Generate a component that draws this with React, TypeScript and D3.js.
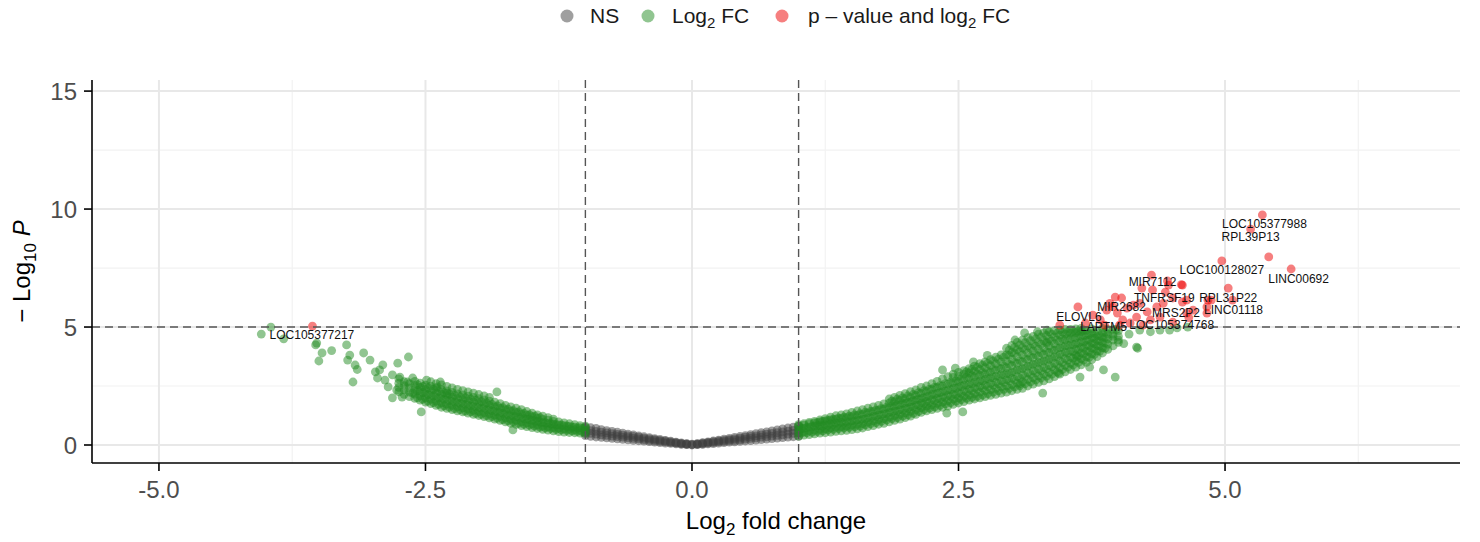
import React from 'react';
import * as d3 from 'd3';

// log2 fold change / -log10 p
const xTicks = [-5, -2.5, 0, 2.5, 5];
const xMinor = [-3.75, -1.25, 1.25, 3.75, 6.25];
const yTicks = [0, 5, 10, 15];
const yMinor = [2.5, 7.5, 12.5];
const fcCutoff = 1;
const pCutoff = 5;

// not significant (|FC| < 1): columns of [log2FC, -log10P values]
const nsColumns: [number, number[]][] = [
  [-1.0, [0.4, 0.52, 0.64, 0.76]], [-0.95, [0.37, 0.49, 0.61, 0.73]], [-0.9, [0.34, 0.46, 0.58, 0.7]],
  [-0.85, [0.32, 0.43, 0.54, 0.65]], [-0.8, [0.3, 0.41, 0.51, 0.61]], [-0.75, [0.28, 0.38, 0.48, 0.58]],
  [-0.7, [0.26, 0.36, 0.45, 0.54]], [-0.65, [0.24, 0.33, 0.42, 0.5]], [-0.6, [0.22, 0.31, 0.39, 0.46]],
  [-0.55, [0.2, 0.28, 0.36, 0.43]], [-0.5, [0.18, 0.26, 0.33, 0.39]], [-0.45, [0.16, 0.23, 0.29, 0.35]],
  [-0.4, [0.14, 0.2, 0.26, 0.31]], [-0.35, [0.12, 0.18, 0.23, 0.27]], [-0.3, [0.1, 0.15, 0.2, 0.24]],
  [-0.25, [0.08, 0.13, 0.17, 0.2]], [-0.2, [0.07, 0.1, 0.13, 0.16]], [-0.15, [0.05, 0.08, 0.1, 0.12]],
  [-0.1, [0.03, 0.05, 0.07, 0.09]], [-0.05, [0.02, 0.03, 0.05, 0.06]], [0, [0.0, 0.02, 0.04]],
  [0.05, [0.02, 0.03, 0.05, 0.06]], [0.1, [0.03, 0.05, 0.08, 0.1]], [0.15, [0.05, 0.08, 0.11, 0.13]],
  [0.2, [0.06, 0.1, 0.14, 0.17]], [0.25, [0.08, 0.13, 0.17, 0.21]], [0.3, [0.1, 0.15, 0.2, 0.25]],
  [0.35, [0.12, 0.18, 0.23, 0.28]], [0.4, [0.13, 0.2, 0.26, 0.32]], [0.45, [0.15, 0.22, 0.29, 0.36]],
  [0.5, [0.17, 0.25, 0.33, 0.4]], [0.55, [0.19, 0.28, 0.36, 0.44]], [0.6, [0.21, 0.3, 0.39, 0.48]],
  [0.65, [0.23, 0.33, 0.43, 0.52]], [0.7, [0.25, 0.35, 0.46, 0.56]], [0.75, [0.27, 0.38, 0.49, 0.6]],
  [0.8, [0.29, 0.41, 0.52, 0.64]], [0.85, [0.31, 0.43, 0.56, 0.68]], [0.9, [0.33, 0.46, 0.59, 0.72]],
  [0.95, [0.35, 0.49, 0.62, 0.76]], [1.0, [0.37, 0.51, 0.66, 0.8]],
];

// |FC| > 1 but p above cutoff, left arm
const fcLeftColumns: [number, number[]][] = [
  [-1.0, [0.48, 0.6, 0.72, 0.8]], [-1.05, [0.5, 0.62, 0.74, 0.82]], [-1.1, [0.52, 0.64, 0.76, 0.86]],
  [-1.15, [0.53, 0.66, 0.79, 0.9]], [-1.2, [0.55, 0.68, 0.82, 0.94]], [-1.25, [0.57, 0.71, 0.85, 0.98]],
  [-1.3, [0.6, 0.74, 0.88, 1.0, 1.1]], [-1.35, [0.63, 0.77, 0.92, 1.05, 1.16]],
  [-1.4, [0.66, 0.8, 0.95, 1.09, 1.22]], [-1.45, [0.7, 0.85, 1.0, 1.14, 1.28]],
  [-1.5, [0.74, 0.89, 1.04, 1.2, 1.35]], [-1.55, [0.78, 0.94, 1.1, 1.26, 1.42]],
  [-1.6, [0.82, 0.98, 1.15, 1.32, 1.5]], [-1.65, [0.87, 1.04, 1.21, 1.38, 1.56]],
  [-1.7, [0.92, 1.09, 1.26, 1.44, 1.62]], [-1.75, [0.98, 1.15, 1.32, 1.5, 1.68]],
  [-1.8, [1.04, 1.21, 1.38, 1.56, 1.75]], [-1.85, [1.1, 1.27, 1.44, 1.62, 1.82]],
  [-1.9, [1.15, 1.32, 1.5, 1.68, 1.86, 2.02]], [-1.95, [1.2, 1.37, 1.55, 1.73, 1.91, 2.08]],
  [-2.0, [1.25, 1.42, 1.6, 1.78, 1.96, 2.14]], [-2.05, [1.3, 1.47, 1.65, 1.83, 2.02, 2.2]],
  [-2.1, [1.35, 1.52, 1.7, 1.88, 2.07, 2.25]], [-2.15, [1.4, 1.57, 1.75, 1.93, 2.12, 2.3]],
  [-2.2, [1.45, 1.62, 1.8, 1.98, 2.17, 2.36]], [-2.25, [1.5, 1.68, 1.86, 2.04, 2.23, 2.42]],
  [-2.3, [1.55, 1.73, 1.91, 2.1, 2.29, 2.48]], [-2.35, [1.6, 1.79, 1.97, 2.16, 2.35, 2.55]],
  [-2.4, [1.68, 1.86, 2.04, 2.22, 2.41, 2.6]], [-2.45, [1.75, 1.93, 2.11, 2.3, 2.49, 2.68]],
  [-2.5, [1.82, 2.0, 2.18, 2.36, 2.54]], [-2.55, [1.9, 2.08, 2.26, 2.44, 2.62]],
  [-2.6, [1.98, 2.16, 2.34, 2.52, 2.7]], [-2.65, [2.05, 2.24, 2.42, 2.6]],
  [-2.7, [2.15, 2.34, 2.52, 2.68]], [-2.75, [2.25, 2.44, 2.62, 2.8]],
];

// denser middle of the left arm
const fcLeftCore: [number, number[]][] = [
  [-1.025, [0.56, 0.7]], [-1.075, [0.58, 0.72]], [-1.125, [0.6, 0.76]], [-1.175, [0.62, 0.8]],
  [-1.225, [0.64, 0.84]], [-1.275, [0.66, 0.86]], [-1.325, [0.7, 0.9]], [-1.375, [0.72, 0.94]],
  [-1.425, [0.76, 0.98, 1.16]], [-1.475, [0.8, 1.02, 1.22]], [-1.525, [0.84, 1.08, 1.28]],
  [-1.575, [0.88, 1.12, 1.34]], [-1.625, [0.92, 1.18, 1.4]], [-1.675, [0.98, 1.22, 1.46]],
  [-1.725, [1.02, 1.28, 1.52]], [-1.775, [1.08, 1.34, 1.58]], [-1.825, [1.14, 1.4, 1.66]],
  [-1.875, [1.2, 1.46, 1.72]], [-1.925, [1.24, 1.5, 1.78]], [-1.975, [1.3, 1.56, 1.84]],
  [-2.025, [1.34, 1.62, 1.9]], [-2.075, [1.4, 1.66, 1.94]], [-2.125, [1.44, 1.72, 2.0]],
  [-2.175, [1.5, 1.76, 2.04]], [-2.225, [1.54, 1.82, 2.1]], [-2.275, [1.6, 1.88, 2.16]],
  [-2.325, [1.66, 1.94, 2.22]], [-2.375, [1.72, 2.0, 2.28]], [-2.425, [1.8, 2.08, 2.36]],
  [-2.475, [1.86, 2.14, 2.42]], [-2.525, [1.94, 2.22, 2.48]], [-2.575, [2.0, 2.3, 2.56]],
];

const fcLeftScatter: [number, number][] = [
  [-4.04, 4.7], [-3.95, 5.0], [-3.83, 4.5], [-3.53, 4.24], [-3.52, 4.32], [-3.47, 3.9],
  [-3.5, 3.56], [-3.38, 4.0], [-3.24, 4.24], [-3.23, 3.6], [-3.21, 3.81], [-3.16, 3.39],
  [-3.18, 2.67], [-3.14, 3.2], [-3.08, 3.9], [-3.02, 3.6], [-2.97, 3.1], [-2.95, 2.84],
  [-2.93, 3.18], [-2.9, 3.4], [-2.88, 2.75], [-2.85, 2.46], [-2.81, 2.97], [-2.76, 3.47],
  [-2.74, 2.88], [-2.67, 2.67], [-2.66, 3.73], [-2.62, 2.84], [-2.62, 2.2], [-2.81, 2.0],
  [-2.72, 2.03], [-2.77, 2.33], [-2.54, 1.4], [-2.49, 2.75], [-2.39, 2.46], [-2.36, 2.67],
  [-2.3, 2.2], [-1.83, 2.25], [-1.68, 0.64],
];

// right arm
const fcRightColumns: [number, number[]][] = [
  [1.0, [0.38, 0.52, 0.66, 0.8, 0.86]], [1.05, [0.42, 0.56, 0.7, 0.84, 0.9]],
  [1.1, [0.44, 0.6, 0.76, 0.9, 0.96]], [1.15, [0.47, 0.63, 0.8, 0.94, 1.0]],
  [1.2, [0.5, 0.66, 0.83, 0.98, 1.06]], [1.25, [0.52, 0.68, 0.86, 1.02, 1.12]],
  [1.3, [0.55, 0.72, 0.9, 1.06, 1.18]], [1.35, [0.58, 0.76, 0.94, 1.1, 1.24]],
  [1.4, [0.6, 0.78, 0.96, 1.13, 1.28]], [1.45, [0.62, 0.8, 0.98, 1.16, 1.32]],
  [1.5, [0.65, 0.84, 1.02, 1.2, 1.38]], [1.55, [0.68, 0.87, 1.06, 1.25, 1.44]],
  [1.6, [0.72, 0.91, 1.1, 1.3, 1.5]], [1.65, [0.78, 0.97, 1.16, 1.36, 1.56]],
  [1.7, [0.82, 1.02, 1.22, 1.42, 1.62]], [1.75, [0.88, 1.08, 1.28, 1.48, 1.68]],
  [1.8, [0.92, 1.12, 1.32, 1.52, 1.74]], [1.85, [0.98, 1.18, 1.38, 1.58, 1.78, 1.95]],
  [1.9, [1.04, 1.24, 1.44, 1.64, 1.84, 2.02]], [1.95, [1.1, 1.3, 1.5, 1.7, 1.9, 2.1]],
  [2.0, [1.16, 1.36, 1.56, 1.76, 1.96, 2.18]], [2.05, [1.22, 1.42, 1.62, 1.82, 2.02, 2.26]],
  [2.1, [1.3, 1.5, 1.7, 1.9, 2.1, 2.34]], [2.15, [1.38, 1.58, 1.78, 1.98, 2.2, 2.44]],
  [2.2, [1.45, 1.65, 1.85, 2.05, 2.27, 2.5]], [2.25, [1.5, 1.7, 1.92, 2.14, 2.36, 2.6]],
  [2.3, [1.55, 1.76, 1.98, 2.2, 2.44, 2.7]], [2.35, [1.6, 1.82, 2.04, 2.26, 2.5, 2.8]],
  [2.4, [1.65, 1.88, 2.1, 2.34, 2.58, 2.9]], [2.45, [1.72, 1.94, 2.16, 2.4, 2.64, 2.86, 3.0]],
  [2.5, [1.78, 2.0, 2.22, 2.46, 2.7, 2.92, 3.08]], [2.55, [1.84, 2.06, 2.3, 2.54, 2.78, 3.0, 3.15]],
  [2.6, [1.9, 2.12, 2.36, 2.6, 2.84, 3.06, 3.24]], [2.65, [1.95, 2.18, 2.42, 2.66, 2.9, 3.14, 3.34]],
  [2.7, [2.0, 2.24, 2.48, 2.72, 2.96, 3.2, 3.45]], [2.75, [2.05, 2.3, 2.54, 2.78, 3.02, 3.28, 3.52]],
  [2.8, [2.1, 2.35, 2.6, 2.85, 3.1, 3.36, 3.62]], [2.85, [2.15, 2.4, 2.66, 2.92, 3.18, 3.44, 3.72]],
  [2.9, [2.2, 2.46, 2.72, 2.98, 3.24, 3.52, 3.82]],
  [2.95, [2.24, 2.5, 2.76, 3.02, 3.28, 3.55, 3.82, 4.1]],
  [3.0, [2.3, 2.56, 2.82, 3.08, 3.36, 3.64, 3.92, 4.22]],
  [3.05, [2.36, 2.62, 2.9, 3.18, 3.46, 3.74, 4.04, 4.35]],
  [3.1, [2.4, 2.68, 2.96, 3.24, 3.52, 3.82, 4.12, 4.45]],
  [3.15, [2.5, 2.78, 3.06, 3.34, 3.62, 3.9, 4.2, 4.55]],
  [3.2, [2.58, 2.86, 3.14, 3.42, 3.7, 3.98, 4.28, 4.6]],
  [3.25, [2.65, 2.93, 3.21, 3.49, 3.77, 4.05, 4.36, 4.7]],
  [3.3, [2.72, 3.0, 3.28, 3.56, 3.84, 4.12, 4.42, 4.75]],
  [3.35, [2.8, 3.08, 3.36, 3.64, 3.92, 4.2, 4.5, 4.8]],
  [3.4, [2.9, 3.18, 3.46, 3.74, 4.02, 4.3, 4.58, 4.85]],
  [3.45, [3.0, 3.28, 3.56, 3.84, 4.12, 4.4, 4.66, 4.88]],
  [3.5, [3.1, 3.38, 3.66, 3.94, 4.2, 4.46, 4.7, 4.9]],
  [3.55, [3.2, 3.46, 3.72, 3.98, 4.24, 4.5, 4.74, 4.9]],
  [3.6, [3.3, 3.56, 3.82, 4.06, 4.3, 4.54, 4.76, 4.92]],
  [3.65, [3.4, 3.66, 3.9, 4.14, 4.38, 4.6, 4.8, 4.94]],
  [3.7, [3.5, 3.74, 3.98, 4.22, 4.44, 4.66, 4.86]],
  [3.75, [3.62, 3.86, 4.1, 4.32, 4.54, 4.74, 4.92]],
  [3.8, [3.75, 3.98, 4.2, 4.42, 4.62, 4.82]],
  [3.85, [3.9, 4.12, 4.34, 4.56, 4.76, 4.94]],
  [3.9, [4.05, 4.28, 4.5, 4.7, 4.9]],
  [3.95, [4.2, 4.45, 4.7, 4.9]],
  [4.0, [4.35, 4.6, 4.85]],
];

// denser middle of the right arm
const fcRightCore: [number, number[]][] = [
  [1.025, [0.5, 0.7]], [1.075, [0.52, 0.74]], [1.125, [0.55, 0.78]], [1.175, [0.58, 0.82, 0.95]],
  [1.225, [0.6, 0.8, 1.0]], [1.275, [0.64, 0.84, 1.04]], [1.325, [0.66, 0.88, 1.08]],
  [1.375, [0.7, 0.92, 1.14]], [1.425, [0.72, 0.94, 1.18]], [1.475, [0.75, 0.98, 1.22]],
  [1.525, [0.78, 1.02, 1.28]], [1.575, [0.8, 1.05, 1.32]], [1.625, [0.85, 1.1, 1.38]],
  [1.675, [0.9, 1.15, 1.42]], [1.725, [0.95, 1.2, 1.48]], [1.775, [1.0, 1.26, 1.54]],
  [1.825, [1.06, 1.32, 1.6]], [1.875, [1.12, 1.38, 1.66, 1.86]], [1.925, [1.16, 1.42, 1.7, 1.94]],
  [1.975, [1.22, 1.48, 1.76, 2.0]], [2.025, [1.28, 1.54, 1.82, 2.08]], [2.075, [1.34, 1.6, 1.88, 2.14]],
  [2.125, [1.42, 1.68, 1.94, 2.22]], [2.175, [1.5, 1.74, 2.0, 2.3]], [2.225, [1.56, 1.8, 2.06, 2.36]],
  [2.275, [1.62, 1.88, 2.14, 2.44]], [2.325, [1.68, 1.94, 2.22, 2.52]], [2.375, [1.74, 2.0, 2.28, 2.6]],
  [2.425, [1.8, 2.06, 2.34, 2.66]], [2.475, [1.86, 2.12, 2.4, 2.72]], [2.525, [1.92, 2.18, 2.48, 2.8]],
  [2.575, [1.98, 2.24, 2.54, 2.88, 3.1]], [2.625, [2.02, 2.3, 2.6, 2.94, 3.2]],
  [2.675, [2.06, 2.36, 2.66, 3.0, 3.3]], [2.725, [2.12, 2.42, 2.72, 3.06, 3.38]],
  [2.775, [2.18, 2.48, 2.8, 3.12, 3.46]], [2.825, [2.24, 2.54, 2.86, 3.2, 3.56]],
  [2.875, [2.3, 2.6, 2.92, 3.28, 3.64]], [2.925, [2.36, 2.66, 2.98, 3.34, 3.72]],
  [2.975, [2.4, 2.72, 3.04, 3.42, 3.8, 4.02]], [3.025, [2.46, 2.78, 3.12, 3.5, 3.88, 4.14]],
  [3.075, [2.52, 2.84, 3.2, 3.58, 3.96, 4.24]], [3.125, [2.6, 2.92, 3.28, 3.66, 4.04, 4.34]],
  [3.175, [2.68, 3.0, 3.36, 3.74, 4.1, 4.42]], [3.225, [2.76, 3.08, 3.44, 3.82, 4.18, 4.5]],
  [3.275, [2.84, 3.16, 3.52, 3.9, 4.26, 4.58]], [3.325, [2.92, 3.24, 3.6, 3.96, 4.32, 4.64]],
  [3.375, [3.0, 3.32, 3.68, 4.04, 4.4, 4.7]], [3.425, [3.1, 3.42, 3.76, 4.1, 4.44, 4.74]],
  [3.475, [3.2, 3.5, 3.84, 4.16, 4.5, 4.78]], [3.525, [3.3, 3.6, 3.9, 4.22, 4.54, 4.8]],
  [3.575, [3.4, 3.68, 3.96, 4.26, 4.58, 4.82]], [3.625, [3.5, 3.78, 4.04, 4.32, 4.62, 4.84]],
  [3.675, [3.6, 3.86, 4.1, 4.36, 4.64, 4.86]], [3.725, [3.72, 3.96, 4.2, 4.44, 4.68]],
  [3.775, [3.84, 4.08, 4.3, 4.52, 4.74]], [3.825, [3.98, 4.2, 4.42, 4.62]],
  [3.875, [4.1, 4.34, 4.56, 4.78]],
];

const fcRightScatter: [number, number][] = [
  [3.29, 2.2], [3.44, 3.05], [3.61, 3.73], [3.64, 2.88], [3.73, 3.3], [3.86, 3.18],
  [3.97, 2.88], [4.18, 4.1], [4.0, 4.45], [3.33, 4.87], [4.2, 4.87], [4.3, 4.8],
  [4.39, 4.87], [4.55, 4.96], [4.48, 4.87], [3.95, 4.6], [4.1, 4.7], [3.12, 4.75],
  [3.24, 4.8], [3.03, 4.45], [2.77, 3.8], [2.64, 3.52], [2.47, 3.26], [2.35, 3.18],
  [2.54, 1.4], [2.39, 1.35], [3.08, 2.6], [4.17, 4.15], [3.33, 4.36],
  [4.65, 5.0], [4.05, 4.3], [3.98, 4.9],
];

// significant genes
const sigPoints: [number, number][] = [
  [-3.56, 5.04],
  [5.35, 9.75], [5.24, 9.15], [5.41, 7.97], [4.97, 7.8], [5.62, 7.46], [5.03, 6.65],
  [4.31, 7.2], [4.59, 6.8], [4.46, 6.95], [4.87, 6.14], [5.07, 6.14], [4.83, 5.85],
  [3.62, 5.85], [4.66, 5.4], [3.45, 5.08], [3.69, 5.17], [3.76, 5.5], [3.92, 6.0],
  [3.97, 6.27], [4.03, 6.23], [3.89, 5.72], [3.99, 5.59], [4.08, 5.8], [4.04, 5.3],
  [4.14, 5.93], [4.2, 6.0], [4.22, 6.65], [4.32, 6.57], [4.44, 6.48], [4.47, 6.78],
  [4.6, 6.78], [4.51, 6.23], [4.6, 6.06], [4.64, 6.14], [4.42, 6.0], [4.36, 5.85],
  [4.27, 5.64], [4.17, 5.42], [4.3, 5.3], [4.23, 5.08], [4.39, 5.42], [4.51, 5.21],
  [4.64, 5.59], [3.83, 5.3], [3.87, 5.08], [4.01, 5.08], [3.95, 5.85], [4.11, 5.17],
  [4.84, 6.14], [4.83, 5.59], [4.7, 5.72],
];

const geneLabels = [
  { gene: 'LOC105377217', fc: -3.565, p: 4.66 },
  { gene: 'LOC105377988', fc: 5.37, p: 9.36 },
  { gene: 'RPL39P13', fc: 5.24, p: 8.81 },
  { gene: 'LOC100128027', fc: 4.97, p: 7.42 },
  { gene: 'LINC00692', fc: 5.69, p: 7.03 },
  { gene: 'MIR7112', fc: 4.32, p: 6.9 },
  { gene: 'TNFRSF19', fc: 4.43, p: 6.25 },
  { gene: 'RPL31P22', fc: 5.03, p: 6.25 },
  { gene: 'LINC01118', fc: 5.08, p: 5.72 },
  { gene: 'MIR2682', fc: 4.03, p: 5.85 },
  { gene: 'MRS2P2', fc: 4.54, p: 5.59 },
  { gene: 'ELOVL6', fc: 3.63, p: 5.42 },
  { gene: 'LAPTM5', fc: 3.86, p: 5.0 },
  { gene: 'LOC105374768', fc: 4.5, p: 5.08 },
];

const flat = (cols: [number, number[]][]) =>
  cols.flatMap(([fc, ys]) => ys.map((y) => [fc, y] as [number, number]));

const FONT = '"Liberation Sans", Arial, sans-serif';

export default function App() {
  const width = 1480;
  const height = 542;
  const left = 92, right = 1460, top = 80, bottom = 463;

  const x = d3.scaleLinear().domain([-5.628, 7.204]).range([left, right]);
  const y = d3.scaleLinear().domain([-0.763, 15.47]).range([bottom, top]);

  const nsPts = flat(nsColumns);
  const fcPts = [
    ...flat(fcLeftColumns), ...flat(fcLeftCore), ...fcLeftScatter,
    ...flat(fcRightColumns), ...flat(fcRightCore), ...fcRightScatter,
  ];

  const dot = (pts: [number, number][], color: string, key: string) =>
    pts.map(([fc, p], i) => (
      <circle key={key + i} cx={x(fc)} cy={y(p)} r={4.4} fill={color} fillOpacity={0.5} />
    ));

  return (
    <svg width={width} height={height} style={{ display: 'block', position: 'absolute', left: 0, top: 0 }}>
      <rect width={width} height={height} fill="#fff" />

      {/* legend */}
      <g fontFamily={FONT} fontSize={21} fill="#1a1a1a" style={{ whiteSpace: 'pre' }}>
        <circle cx={567} cy={16} r={6.5} fill="#404040" fillOpacity={0.5} />
        <text x={590} y={23}>NS</text>
        <circle cx={648} cy={16} r={6.5} fill="#228B22" fillOpacity={0.5} />
        <text x={672} y={23}>
          Log<tspan fontSize={15} dy={5}>2</tspan><tspan dy={-5}>{'  FC'}</tspan>
        </text>
        <circle cx={782} cy={16} r={6.5} fill="#EE0000" fillOpacity={0.5} />
        <text x={808} y={23}>
          {'p – value  and  log'}<tspan fontSize={15} dy={5}>2</tspan><tspan dy={-5}>{'  FC'}</tspan>
        </text>
      </g>

      {/* grid */}
      <g>
        {yMinor.map((t) => (
          <line key={'ym' + t} x1={left} x2={right} y1={y(t)} y2={y(t)} stroke="#f2f2f2" strokeWidth={1.2} />
        ))}
        {xMinor.map((t) => (
          <line key={'xm' + t} x1={x(t)} x2={x(t)} y1={top} y2={bottom} stroke="#f2f2f2" strokeWidth={1.2} />
        ))}
        {yTicks.map((t) => (
          <line key={'yg' + t} x1={left} x2={right} y1={y(t)} y2={y(t)} stroke="#e8e8e8" strokeWidth={2} />
        ))}
        {xTicks.map((t) => (
          <line key={'xg' + t} x1={x(t)} x2={x(t)} y1={top} y2={bottom} stroke="#e8e8e8" strokeWidth={2} />
        ))}
      </g>

      {/* points */}
      <g>
        {dot(nsPts, '#404040', 'ns')}
        {dot(fcPts, '#228B22', 'fc')}
        {dot(sigPoints, '#EE0000', 'sig')}
      </g>

      {/* cutoffs */}
      <g stroke="#555" strokeWidth={1.4} strokeDasharray="8 5">
        <line x1={x(-fcCutoff)} x2={x(-fcCutoff)} y1={top} y2={bottom} />
        <line x1={x(fcCutoff)} x2={x(fcCutoff)} y1={top} y2={bottom} />
        <line x1={left} x2={right} y1={y(pCutoff)} y2={y(pCutoff)} />
      </g>

      {/* gene labels */}
      <g fontFamily={FONT} fontSize={12} fill="#111" textAnchor="middle">
        {geneLabels.map((d) => (
          <text key={d.gene} x={x(d.fc)} y={y(d.p)} dy="0.35em">{d.gene}</text>
        ))}
      </g>

      {/* axes */}
      <g stroke="#000" strokeWidth={1.6}>
        <line x1={left} x2={left} y1={top} y2={bottom} />
        <line x1={left} x2={right} y1={bottom} y2={bottom} />
        {yTicks.map((t) => (
          <line key={'yt' + t} x1={left - 8} x2={left} y1={y(t)} y2={y(t)} />
        ))}
        {xTicks.map((t) => (
          <line key={'xt' + t} x1={x(t)} x2={x(t)} y1={bottom} y2={bottom + 8} />
        ))}
      </g>
      <g fontFamily={FONT} fontSize={24} fill="#4d4d4d">
        {yTicks.map((t) => (
          <text key={'yl' + t} x={left - 15} y={y(t)} dy="0.36em" textAnchor="end">{t}</text>
        ))}
        {xTicks.map((t) => (
          <text key={'xl' + t} x={x(t)} y={bottom + 26} dy="0.36em" textAnchor="middle">{d3.format('.1f')(t).replace('−', '-')}</text>
        ))}
      </g>

      {/* axis titles */}
      <g fontFamily={FONT} fontSize={24} fill="#000" style={{ whiteSpace: 'pre' }}>
        <text x={(left + right) / 2} y={529} textAnchor="middle">
          Log<tspan fontSize={17} dy={6}>2</tspan><tspan dy={-6}>{'  fold change'}</tspan>
        </text>
        <text transform={`translate(30,${(top + bottom) / 2}) rotate(-90)`} textAnchor="middle">
          {'− Log'}<tspan fontSize={17} dy={6}>10</tspan><tspan dy={-6}> </tspan><tspan fontStyle="italic">P</tspan>
        </text>
      </g>
    </svg>
  );
}
